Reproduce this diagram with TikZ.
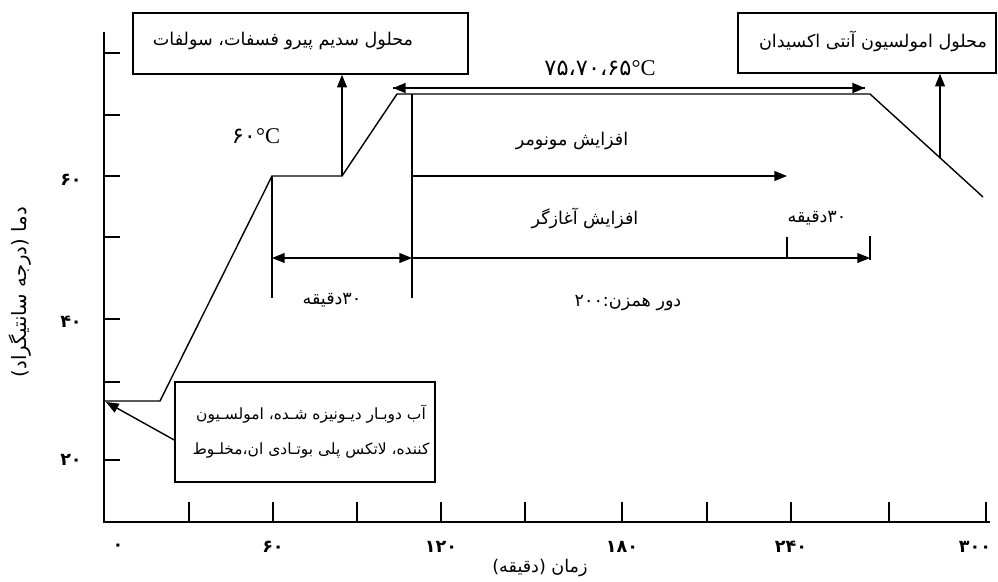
\documentclass[tikz,border=0pt]{standalone}
\usepackage{fontspec}
\setmainfont{Liberation Serif}
\newfontfamily\fa[Script=Arabic]{DejaVu Sans}
\TeXXeTstate=1
\usetikzlibrary{arrows.meta}

\begin{document}
\begin{tikzpicture}[x=0.025cm, y=-0.025cm, line width=1pt,
    tip/.style={-{Triangle[length=9pt,width=7pt]}},
    tips/.style={{Triangle[length=9pt,width=7pt]}-{Triangle[length=9pt,width=7pt]}},
    box/.style={draw, line width=1pt, inner sep=0pt},
    fatxt/.style={font=\fa\fontsize{12.5}{15}\selectfont, inner sep=1pt},
    num/.style={font=\fa\bfseries\fontsize{12.5}{14}\selectfont, inner sep=1pt},
    deg/.style={font=\fontsize{16}{18}\selectfont, inner sep=1pt}]
  \useasboundingbox (0,0) rectangle (998,581);

  % axes
  \coordinate (top) at (104,32);
  \coordinate (o) at (104,522);
  \coordinate (xend) at (990,522);
  \draw (top) -- (o) -- (xend);
  \foreach \y in {53,115,176,237,319,382,460}
    \draw (104,\y) -- ++(16,0);
  \foreach \x in {189,273,357,441,525,622,707,791,889,986}
    \draw (\x,522) -- ++(0,-20);
  \foreach \x/\t in {118/۰,273/۶۰,441/۱۲۰,622/۱۸۰,791/۲۴۰,975/۳۰۰}
    \node[num] (xl\x) at (\x,547) {\t};
  \foreach \y/\t in {180/۶۰,322/۴۰,460/۲۰}
    \node[num] (yl\y) at (71,\y) {\t};
  \node[fatxt, font=\fa\fontsize{14}{16}\selectfont, rotate=90] (ytitle) at (20,292)
    {\beginR دما (درجه سانتیگراد)\endR};
  \node[fatxt] (xtitle) at (540,568) {\beginR زمان (دقیقه)\endR};

  % temperature profile
  \coordinate (p0) at (104,401);
  \coordinate (p1) at (160,401);
  \coordinate (p2) at (272,176);
  \coordinate (p3) at (342,176);
  \coordinate (p4) at (397,94);
  \coordinate (p5) at (870,94);
  \coordinate (p6) at (983,197);
  \draw (p0) -- (p1) -- (p2) -- (p3) -- (p4) -- (p5) -- (p6);

  % boxes
  \node[box, minimum width=8.375cm, minimum height=1.525cm] (sodium) at (300.5,43.5) {};
  \node[fatxt] (sodiumtxt) at (283,41) {\beginR محلول سدیم پیرو فسفات، سولفات\endR};
  \node[box, minimum width=6.45cm, minimum height=1.5cm] (anti) at (867,43) {};
  \node[fatxt] (antitxt) at (873,41) {\beginR محلول امولسیون آنتی اکسیدان\endR};
  \node[box, minimum width=6.5cm, minimum height=2.5cm] (water) at (305,432) {};
  \node[fatxt, font=\fa\fontsize{11}{13}\selectfont, align=center] (watertxt) at (311,432)
    {\beginR آب دوبـار دیـونیزه شـده، امولسـیون\endR\\[12pt]
     \beginR کننده، لاتکس پلی بوتـادی ان،مخلـوط\endR};

  % feed arrows
  \coordinate (q) at (940,158);
  \draw[tip] (p3) -- (sodium.south -| p3);
  \draw[tip] (q) -- (anti.south -| q);
  \draw[tip] (water.west |- 0,440) -- (106,402);

  % reaction temperature span
  \coordinate (tl) at (393,88);
  \coordinate (tr) at (865,88);
  \draw (tl) -- (tr);
  \draw[tip, line width=1.6pt] (490,88) -- (tl);
  \draw[tip, line width=1.6pt] (713,88) -- (tr);
  \node[deg] (temps) at (600,68) {{\fa ۷۵،۷۰،۶۵}°C};
  \node[deg] (t60) at (256,136) {{\fa ۶۰}°C};

  % time marks
  \coordinate (v60) at (272,298);
  \coordinate (v120) at (412,298);
  \coordinate (v120t) at (412,94);
  \draw (p2) -- (v60);
  \draw (v120t) -- (v120);
  \draw[tips] (272,258) -- (412,258);
  \draw[tip] (412,258) -- (870,258);
  \draw (787,237) -- (787,258);
  \draw (870,236) -- (870,260);
  \draw[tip] (412,176) -- (787,176);

  \node[fatxt] (monomer) at (572,141) {\beginR افزایش مونومر\endR};
  \node[fatxt] (init) at (585,218) {\beginR افزایش آغازگر\endR};
  \node[fatxt] (min30b) at (817,218) {{\fa ۳۰}{\fa دقیقه}};
  \node[fatxt] (min30a) at (332,300) {{\fa ۳۰}{\fa دقیقه}};
  \node[fatxt] (rpm) at (628,303) {\beginR دور همزن:۲۰۰\endR};
\end{tikzpicture}
\end{document}
